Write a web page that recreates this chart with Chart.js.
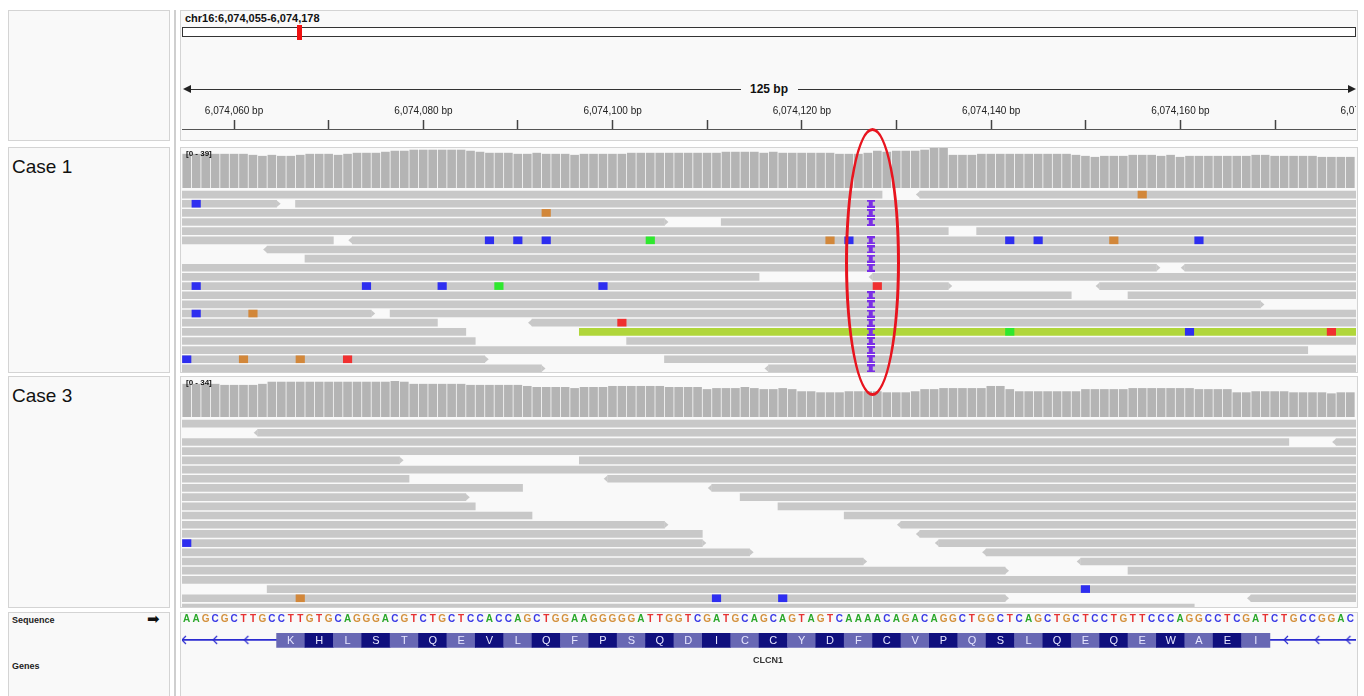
<!DOCTYPE html>
<html>
<head>
<meta charset="utf-8">
<title>CLCN1 alignments</title>
<script src="https://cdn.jsdelivr.net/npm/chart.js"></script>
<style>
  body { margin: 0; width: 1364px; height: 696px; overflow: hidden; position: relative; background: #fff;
         font-family: "Liberation Sans", Arial, sans-serif; color: #111; }
  .box { position: absolute; box-sizing: border-box; background: #f9f9f9; border: 1px solid #d4d4d4; }
  .abs { position: absolute; white-space: nowrap; }
  canvas { position: absolute; display: block; }
</style>
</head>
<body>
<!-- panels -->
<div class="box" style="left:8px;top:10px;width:162px;height:131px"></div>
<div class="box" style="left:180px;top:10px;width:1178px;height:131px"></div>
<div class="box" style="left:8px;top:147px;width:162px;height:226px"></div>
<div class="box" style="left:180px;top:147px;width:1178px;height:226px"></div>
<div class="box" style="left:8px;top:376px;width:162px;height:232px"></div>
<div class="box" style="left:180px;top:376px;width:1178px;height:232px"></div>
<div class="box" style="left:8px;top:612px;width:162px;height:90px"></div>
<div class="box" style="left:180px;top:612px;width:1178px;height:90px"></div>
<div class="abs" style="left:174px;top:10px;width:2px;height:686px;background:#cfcfcf"></div>

<!-- ruler header -->
<div class="abs" style="left:185px;top:12px;font-size:11px;font-weight:bold">chr16:6,074,055-6,074,178</div>
<div class="abs" style="left:182px;top:27px;width:1174px;height:10px;box-sizing:border-box;border:1px solid #333;background:#fff"></div>
<div class="abs" style="left:297px;top:25px;width:5px;height:15px;background:#f01010"></div>
<div class="abs" style="left:190px;top:89px;width:551px;height:1px;background:#333"></div>
<div class="abs" style="left:798px;top:89px;width:550px;height:1px;background:#333"></div>
<div class="abs" style="left:183px;top:85px;width:0;height:0;border-top:4px solid transparent;border-bottom:4px solid transparent;border-right:8px solid #222"></div>
<div class="abs" style="left:1348px;top:85px;width:0;height:0;border-top:4px solid transparent;border-bottom:4px solid transparent;border-left:8px solid #222"></div>
<div class="abs" style="left:744px;top:82px;width:50px;text-align:center;font-size:12px;font-weight:bold">125 bp</div>
<div class="abs" style="left:182px;top:95px;width:1174px;height:45px;overflow:hidden"><canvas id="ruler" width="1235" height="80" style="left:0;top:0"></canvas></div>

<!-- track names -->
<div class="abs" style="left:12px;top:156px;font-size:19px">Case 1</div>
<div class="abs" style="left:12px;top:385px;font-size:19px">Case 3</div>
<div class="abs" style="left:12px;top:615px;font-size:9px;font-weight:bold;color:#222">Sequence</div>
<div class="abs" style="left:147px;top:610px;font-family:'DejaVu Sans';font-size:15px">&#10145;</div>
<div class="abs" style="left:12px;top:661px;font-size:9px;font-weight:bold;color:#222">Genes</div>

<!-- tracks -->
<canvas id="cov1" width="1174" height="40" style="left:182px;top:148px"></canvas>
<canvas id="reads1" width="1174" height="183" style="left:182px;top:190px"></canvas>
<canvas id="cov3" width="1174" height="36" style="left:182px;top:381px"></canvas>
<canvas id="reads3" width="1174" height="188" style="left:182px;top:419px"></canvas>
<canvas id="genes" width="1174" height="83" style="left:182px;top:613px"></canvas>

<div class="abs" style="left:186px;top:149px;font-size:8px;font-weight:bold">[0 - 39]</div>
<div class="abs" style="left:186px;top:378px;font-size:8px;font-weight:bold">[0 - 34]</div>
<div class="abs" style="left:740px;top:655px;width:56px;text-align:center;font-size:9px;font-weight:bold;color:#333">CLCN1</div>

<!-- highlight -->
<div class="abs" style="left:845px;top:128px;width:55px;height:268px;box-sizing:border-box;border:3.5px solid #e8141e;border-radius:50%"></div>

<script>
// view: chr16 positions relative to 6,074,000
const CHROM_OFFSET = 6074000;
const VIEW_MIN = 54.5;
const VIEW_MAX = 178.6;
const FIRST_BASE = 55;
const L = 40;   // read continues off the left edge
const R = 190;  // read continues off the right edge

const SEQUENCE = "AAGCGCTTGCCTTGTGCAGGGACGTCTGCTCCACCAGCTGGAAGGGGGATTGGTCGATGCAGCAGTAGTCAAAACAGACAGGCTGGCTCAGCTGCTCCTGTTCCCAGGCCTCGATCTGCCGGAC";

const AMINO_ACIDS = ['K','H','L','S','T','Q','E','V','L','Q','F','P','S','Q','D','I','C','C','Y','D',
                     'F','C','V','P','Q','S','L','Q','E','Q','E','W','A','E','I'];
const AA_START = 64.5;
const GENE_CHEVRONS = [54.7, 58, 61.3, 171.2, 174.5, 177.8];

const CASE1_COVERAGE = [33,33,33,33,33,33,33,32,31,32,31,31,32,33,33,33,32,33,34,34,34,35,36,36,37,37,37,37,37,37,36,35,34,34,34,33,33,34,33,33,33,
  32,33,33,33,33,33,34,34,34,34,34,34,34,34,34,34,35,35,35,35,34,35,34,34,34,34,34,34,33,33,33,34,36,35,36,36,36,37,39,39,32,
  32,32,33,33,33,33,33,33,33,33,33,33,32,31,30,31,31,31,32,32,32,31,32,30,31,31,31,31,31,31,31,32,32,31,31,31,31,31,30,30,30,30];

const CASE3_COVERAGE = [31,31,31,31,30,30,30,30,31,33,33,33,33,33,33,33,33,33,33,33,33,33,34,33,31,31,31,31,31,31,30,30,30,30,30,30,29,28,28,28,28,
  27,28,28,28,29,29,29,29,29,29,28,28,28,28,26,27,27,27,28,27,26,26,27,26,24,24,23,23,23,24,24,24,24,23,23,23,24,26,26,27,27,27,
  27,27,29,29,26,24,24,24,24,24,24,24,26,26,26,26,26,27,27,27,27,27,27,27,26,26,26,26,23,23,24,24,24,24,23,23,23,23,22,23,23];

// reads per row: [start, end, strand tip]
const CASE1_READS = [
  [[L,128.5],[132.5,R,'<']],
  [[L,64.5,'>'],[66.5,R]],
  [[L,R]],
  [[L,105.5,'>'],[111.5,R]],
  [[L,135.5],[138.5,R]],
  [[L,70.5],[72.5,R,'<']],
  [[63.5,R,'<']],
  [[67.5,R]],
  [[L,157.5,'>'],[160.5,R,'<']],
  [[L,115.5],[127.5,R,'<']],
  [[L,135.5,'>'],[151.5,R,'<']],
  [[L,148.5],[154.5,R]],
  [[L,168.5,'>']],
  [[L,74.5,'>'],[76.5,R]],
  [[L,81.5],[91.5,R,'<']],
  [[L,84.5]],
  [[L,85.5],[101.5,R]],
  [[L,173.5]],
  [[L,86.5,'>'],[105.5,R]],
  [[L,92.5,'>'],[116.5,R,'<']]
];
const CASE1_ODD_PAIRS = [[16, 96.5, R]];
const CASE1_MISMATCHES = [[1,156,'G'],[2,56,'C'],[3,93,'G'],
  [6,87,'C'],[6,90,'C'],[6,93,'C'],[6,104,'A'],[6,123,'G'],[6,125,'C'],[6,142,'C'],[6,145,'C'],[6,153,'G'],[6,162,'C'],
  [11,56,'C'],[11,74,'C'],[11,82,'C'],[11,88,'A'],[11,99,'C'],[11,128,'T'],
  [14,56,'C'],[14,62,'G'],[15,101,'T'],[16,142,'A'],[16,161,'C'],[16,176,'T'],
  [19,55,'C'],[19,61,'G'],[19,67,'G'],[19,72,'T']];
const CASE1_INSERT_ROWS = [2,3,4,6,7,8,9,12,13,14,15,16,17,18,19,20];
const INSERT_POS = 127.3;

const CASE3_READS = [
  [[L,R]],
  [[62.5,R,'<']],
  [[L,171.5],[176.5,R,'<']],
  [[L,R]],
  [[L,77.5,'>'],[96.5,R]],
  [[L,R]],
  [[L,78.5],[99.5,R,'<']],
  [[L,90.5],[110.5,R,'<']],
  [[L,84.5,'>'],[113.5,R]],
  [[L,85.5],[117.5,R]],
  [[L,91.5],[124.5,R]],
  [[L,105.5,'>'],[130.5,R,'<']],
  [[L,109.5],[132.5,R,'<']],
  [[L,109.5,'>'],[134.5,R,'<']],
  [[L,114.5,'>'],[139.5,R,'<']],
  [[L,126.5,'>'],[149.5,R,'<']],
  [[L,141.5,'>'],[154.5,R]],
  [[L,R]],
  [[63.5,R]],
  [[L,141.5,'>'],[167.5,R,'<']],
  [[L,161.5]]
];
const CASE3_MISMATCHES = [[14,55,'C'],[19,150,'C'],[20,67,'G'],[20,111,'C'],[20,118,'C']];

const BASE_COLORS = { A: '#2ee82e', C: '#2e2ef0', G: '#d2873a', T: '#f03030' };
const SEQ_COLORS = { A: '#2aa82a', C: '#3a3ae6', G: '#d4913c', T: '#e63232' };
const READ_COLOR = '#c8c8c8';
const FONT = '"Liberation Sans", Arial, sans-serif';

function baseOptions() {
  return {
    responsive: false, animation: false, events: [],
    layout: { autoPadding: false },
    plugins: { legend: { display: false }, tooltip: { enabled: false } }
  };
}

function insertMark() {
  const c = document.createElement('canvas');
  c.width = 8; c.height = 8;
  const g = c.getContext('2d');
  g.fillStyle = '#7a2ee6';
  g.fillRect(0, 0, 8, 2); g.fillRect(0, 6, 8, 2); g.fillRect(2, 0, 4, 8);
  return c;
}

function chevron() {
  const c = document.createElement('canvas');
  c.width = 8; c.height = 10;
  const g = c.getContext('2d');
  g.strokeStyle = '#2b2bd0'; g.lineWidth = 1.2;
  g.beginPath(); g.moveTo(6, 1); g.lineTo(2, 5); g.lineTo(6, 9); g.stroke();
  return c;
}

function arrowPlugin(items) {
  return {
    id: 'readArrows',
    afterDatasetsDraw(chart) {
      const { ctx, chartArea, scales } = chart;
      ctx.save();
      ctx.beginPath(); ctx.rect(chartArea.left, chartArea.top, chartArea.width, chartArea.height); ctx.clip();
      ctx.fillStyle = READ_COLOR;
      items.forEach(a => {
        const x = scales.x.getPixelForValue(a.at);
        const y = scales.y.getPixelForValue(a.row);
        ctx.beginPath();
        ctx.moveTo(x, y - 3.5); ctx.lineTo(x + a.dir * 4, y); ctx.lineTo(x, y + 3.5);
        ctx.closePath(); ctx.fill();
      });
      ctx.restore();
    }
  };
}

function coverageChart(id, values, maxY) {
  return new Chart(document.getElementById(id), {
    type: 'bar',
    data: { datasets: [{
      data: values.map((v, i) => ({ x: FIRST_BASE + i, y: v })),
      backgroundColor: '#b4b4b4', barThickness: 8
    }] },
    options: Object.assign(baseOptions(), {
      scales: {
        x: { type: 'linear', display: false, offset: false, min: VIEW_MIN, max: VIEW_MAX },
        y: { display: false, offset: false, min: 0, max: maxY }
      }
    })
  });
}

function readsChart(id, rows, oddPairs, mismatches, insertRows, maxRow) {
  const first = [], second = [], arrows = [];
  rows.forEach((segs, r) => {
    segs.forEach((s, k) => {
      (k === 0 ? first : second).push({ x: [s[0], s[1]], y: r + 1 });
      if (s[2] === '>') arrows.push({ row: r + 1, at: s[1], dir: 1 });
      if (s[2] === '<') arrows.push({ row: r + 1, at: s[0], dir: -1 });
    });
  });
  const datasets = [
    { data: first, backgroundColor: READ_COLOR, barThickness: 7, grouped: false, order: 4 },
    { data: second, backgroundColor: READ_COLOR, barThickness: 7, grouped: false, order: 4 },
    { data: oddPairs.map(p => ({ x: [p[1], p[2]], y: p[0] })), backgroundColor: '#b0d63a', barThickness: 7, grouped: false, order: 3 },
    { data: mismatches.map(m => ({ x: [m[1] - 0.45, m[1] + 0.45], y: m[0] })),
      backgroundColor: mismatches.map(m => BASE_COLORS[m[2]]), barThickness: 7, grouped: false, order: 2 },
    { type: 'scatter', data: insertRows.map(r => ({ x: INSERT_POS, y: r })),
      pointStyle: insertMark(), pointRadius: 4, order: 1 }
  ];
  return new Chart(document.getElementById(id), {
    type: 'bar',
    data: { datasets },
    plugins: [arrowPlugin(arrows)],
    options: Object.assign(baseOptions(), {
      indexAxis: 'y',
      scales: {
        x: { type: 'linear', display: false, offset: false, min: VIEW_MIN, max: VIEW_MAX },
        y: { type: 'linear', display: false, offset: false, min: 0.5, max: maxRow, reverse: true }
      }
    })
  });
}

// ruler
new Chart(document.getElementById('ruler'), {
  type: 'scatter',
  data: { datasets: [{ data: [] }] },
  options: Object.assign(baseOptions(), {
    layout: { autoPadding: false, padding: { top: 7 } },
    scales: {
      x: {
        type: 'linear', position: 'top', offset: false, min: VIEW_MIN, max: 185,
        ticks: {
          stepSize: 10, includeBounds: false, autoSkip: false, maxRotation: 0, padding: 3,
          color: '#222', font: { family: FONT, size: 10 },
          callback: v => v % 20 === 0 ? (CHROM_OFFSET + v).toLocaleString('en-US') + ' bp' : ''
        },
        grid: { drawOnChartArea: false, tickLength: 9, tickColor: '#444', tickWidth: 1.5 },
        border: { display: true, color: '#555', width: 1 }
      },
      y: { display: false }
    }
  })
});

coverageChart('cov1', CASE1_COVERAGE, 39);
readsChart('reads1', CASE1_READS, CASE1_ODD_PAIRS, CASE1_MISMATCHES, CASE1_INSERT_ROWS, 20.5);
coverageChart('cov3', CASE3_COVERAGE, 34);
readsChart('reads3', CASE3_READS, [], CASE3_MISMATCHES, [], 20.95);

// sequence + gene track
const GENE_Y = 1.1;
const aaLabels = {
  id: 'aaLabels',
  afterDatasetsDraw(chart) {
    const ctx = chart.ctx;
    ctx.save();
    ctx.font = '11px ' + FONT;
    ctx.fillStyle = '#e6e6ff'; ctx.textAlign = 'center'; ctx.textBaseline = 'middle';
    chart.getDatasetMeta(1).data.forEach((el, i) => {
      ctx.fillText(AMINO_ACIDS[i], (el.x + el.base) / 2, el.y + 1);
    });
    ctx.restore();
  }
};
new Chart(document.getElementById('genes'), {
  type: 'bar',
  data: { datasets: [
    { data: [{ x: [L, R], y: GENE_Y }], backgroundColor: '#2b2bd0', barThickness: 1.2, grouped: false, order: 3 },
    { data: AMINO_ACIDS.map((a, i) => ({ x: [AA_START + 3 * i, AA_START + 3 * i + 3], y: GENE_Y })),
      backgroundColor: AMINO_ACIDS.map((a, i) => i % 2 ? '#10107e' : '#6868b4'), barThickness: 15, grouped: false, order: 2 },
    { type: 'scatter', data: GENE_CHEVRONS.map(x => ({ x, y: GENE_Y })), pointStyle: chevron(), pointRadius: 4, order: 1 }
  ] },
  plugins: [aaLabels],
  options: Object.assign(baseOptions(), {
    indexAxis: 'y',
    scales: {
      x: {
        type: 'linear', position: 'top', offset: false, min: VIEW_MIN, max: VIEW_MAX,
        ticks: {
          stepSize: 1, includeBounds: false, autoSkip: false, maxRotation: 0, minRotation: 0, padding: 0,
          font: { family: FONT, size: 10, weight: 'bold' },
          color: ctx => SEQ_COLORS[SEQUENCE[ctx.tick.value - FIRST_BASE]] || '#333',
          callback: v => SEQUENCE[v - FIRST_BASE] || ''
        },
        grid: { display: false },
        border: { display: false }
      },
      y: { type: 'linear', display: false, offset: false, min: 0, max: 10, reverse: true }
    }
  })
});
</script>
</body>
</html>
